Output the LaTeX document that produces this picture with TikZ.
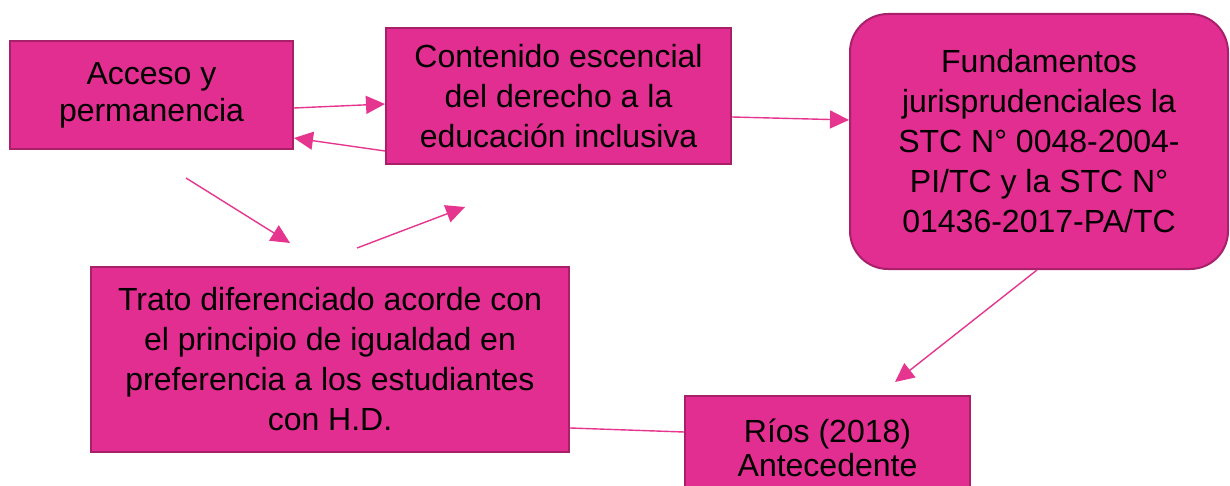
\documentclass[tikz,border=0pt]{standalone}
\usepackage{fontspec}
\setmainfont{Liberation Sans}
\usetikzlibrary{arrows.meta}
\definecolor{boxfill}{HTML}{E22D91}
\definecolor{boxedge}{HTML}{A8206A}
\definecolor{linkc}{HTML}{E6358F}
\tikzset{
  box/.style={draw=boxedge, line width=2pt, fill=boxfill, inner sep=0pt, align=center, text=black},
  link/.style={draw=linkc, line width=1.4pt},
  arr/.style={link, -{Triangle[length=19pt,width=18pt]}},
}
\begin{document}
\begin{tikzpicture}[x=1pt,y=-1pt]
\clip (0,0) rectangle (1230,486);
\fill[white] (0,0) rectangle (1230,486);
\node[box, minimum width=283pt, minimum height=108pt, font=\fontsize{32}{37}\selectfont] (A) at (151.5,95) {Acceso y\\permanencia};
\node[box, minimum width=345pt, minimum height=136pt, font=\fontsize{32}{40}\selectfont] (B) at (558.5,96) {Contenido escencial\\del derecho a la\\educación inclusiva};
\node[box, rounded corners=38pt, minimum width=378pt, minimum height=255pt, font=\fontsize{32}{40}\selectfont] (C) at (1039,141.5) {Fundamentos\\jurisprudenciales la\\STC N° 0048-2004-\\PI/TC y la STC N°\\01436-2017-PA/TC};
\node[box, minimum width=478pt, minimum height=185pt, font=\fontsize{32}{40}\selectfont] (D) at (330,359.5) {Trato diferenciado acorde con\\el principio de igualdad en\\preferencia a los estudiantes\\con H.D.};
\node[box, minimum width=285pt, minimum height=104pt, font=\fontsize{32}{34}\selectfont] (E) at (827.5,448) {Ríos (2018)\\Antecedente};
\coordinate (f1s) at (186,178);
\coordinate (f1e) at (290,243);
\coordinate (f2s) at (357,248);
\coordinate (f2e) at (465,207);
\coordinate (ce) at (895,382);
\draw[arr] ([yshift=-13pt]A.east) -- ([yshift=-8pt]B.west);
\draw[arr] ([yshift=-55pt]B.west) -- ([yshift=-43pt]A.east);
\draw[arr] ([yshift=-21pt]B.east) -- ([yshift=21.5pt]C.west);
\draw[arr] ([xshift=-2pt]C.south) -- (ce);
\draw[arr] (f1s) -- (f1e);
\draw[arr] (f2s) -- (f2e);
\draw[link] ([yshift=-68.5pt]D.east) -- ([yshift=16pt]E.west);
\end{tikzpicture}
\end{document}
